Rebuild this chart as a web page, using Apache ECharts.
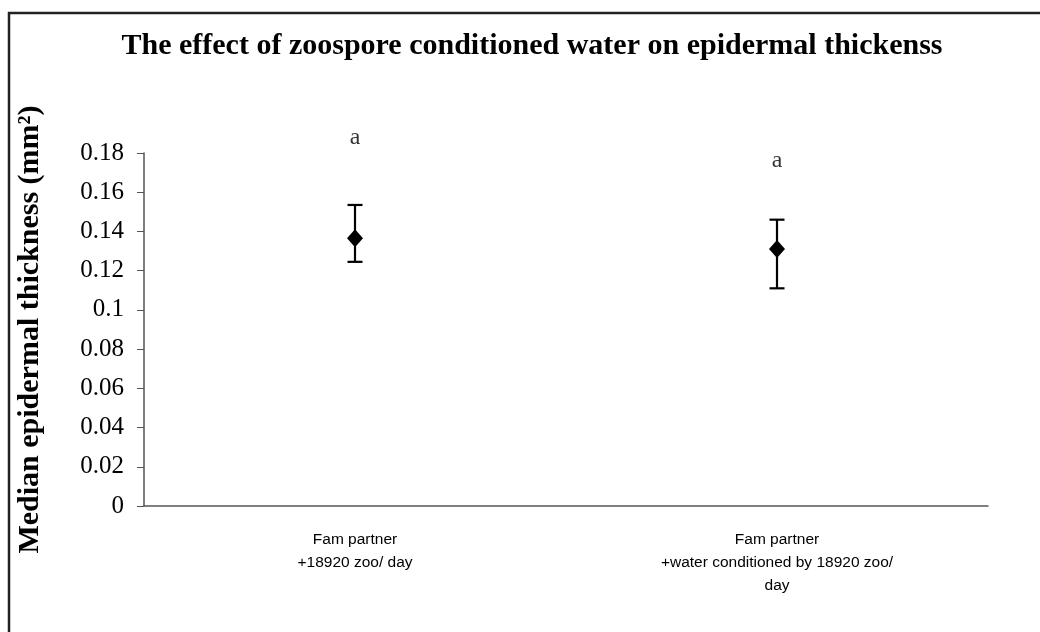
<!DOCTYPE html>
<html>
<head>
<meta charset="utf-8">
<script src="https://cdn.jsdelivr.net/npm/echarts@6/dist/echarts.min.js"></script>
<style>
  html, body { margin: 0; padding: 0; background: #fff; }
  #chart { width: 1040px; height: 632px; }
</style>
</head>
<body>
<div id="chart"></div>
<script>
var chart = echarts.init(document.getElementById('chart'), null, { renderer: 'canvas' });

// data
var categories = ['Fam partner\n+18920 zoo/ day', 'Fam partner\n+water conditioned by 18920 zoo/\nday'];
var medians = [0.1365, 0.131];
var errLow = [0.1245, 0.111];
var errHigh = [0.1535, 0.146];
var letters = ['a', 'a'];
var letterY = [0.188, 0.176];

var errData = categories.map(function (c, i) { return [i, errLow[i], errHigh[i]]; });
var letterData = categories.map(function (c, i) { return { value: [i, letterY[i]], label: { formatter: letters[i] } }; });

chart.setOption({
    animation: false,
    title: {
        text: 'The effect of zoospore conditioned water on epidermal thickenss',
        left: 527,
        textAlign: 'center',
        top: 26,
        textStyle: { fontFamily: 'Liberation Serif', fontWeight: 'bold', fontSize: 30, color: '#000' }
    },
    graphic: [{
        type: 'rect',
        shape: { x: 9, y: 13, width: 1040, height: 640 },
        style: { fill: 'none', stroke: '#222', lineWidth: 2.5 }
    }],
    grid: { left: 144, right: 52, top: 153, bottom: 126 },
    xAxis: {
        type: 'category',
        data: categories,
        axisLine: { lineStyle: { color: '#555', width: 1.5 } },
        axisTick: { show: false },
        axisLabel: {
            interval: 0, margin: 22, color: '#000',
            fontFamily: 'Liberation Sans', fontSize: 15.5, lineHeight: 23
        }
    },
    yAxis: {
        type: 'value',
        min: 0, max: 0.18, interval: 0.02,
        name: 'Median epidermal thickness (mm²)',
        nameLocation: 'middle',
        nameGap: 99,
        nameTextStyle: { fontFamily: 'Liberation Serif', fontWeight: 'bold', fontSize: 30, color: '#000' },
        axisLine: { show: true, lineStyle: { color: '#555', width: 1.5 } },
        axisTick: { show: true, length: 7, lineStyle: { color: '#555' } },
        splitLine: { show: false },
        axisLabel: {
            margin: 20, color: '#000', fontFamily: 'Liberation Serif', fontSize: 25,
            formatter: function (v) { return String(Math.round(v * 100) / 100); }
        }
    },
    series: [{
        type: 'custom',
        data: errData,
        z: 2,
        renderItem: function (params, api) {
            var lo = api.coord([api.value(0), api.value(1)]);
            var hi = api.coord([api.value(0), api.value(2)]);
            var w = 7.5;
            var st = { stroke: '#000', lineWidth: 2.2 };
            return {
                type: 'group',
                children: [
                    { type: 'line', shape: { x1: lo[0], y1: lo[1], x2: hi[0], y2: hi[1] }, style: st },
                    { type: 'line', shape: { x1: lo[0] - w, y1: lo[1], x2: lo[0] + w, y2: lo[1] }, style: st },
                    { type: 'line', shape: { x1: hi[0] - w, y1: hi[1], x2: hi[0] + w, y2: hi[1] }, style: st }
                ]
            };
        }
    }, {
        type: 'scatter',
        data: medians,
        symbol: 'diamond',
        symbolSize: [16, 18],
        itemStyle: { color: '#000', opacity: 1 },
        z: 3
    }, {
        type: 'scatter',
        data: letterData,
        symbolSize: 1,
        clip: false,
        itemStyle: { color: 'rgba(0,0,0,0)' },
        label: {
            show: true, position: 'inside', color: '#000',
            fontFamily: 'Liberation Serif', fontSize: 24
        }
    }]
});
</script>
</body>
</html>
